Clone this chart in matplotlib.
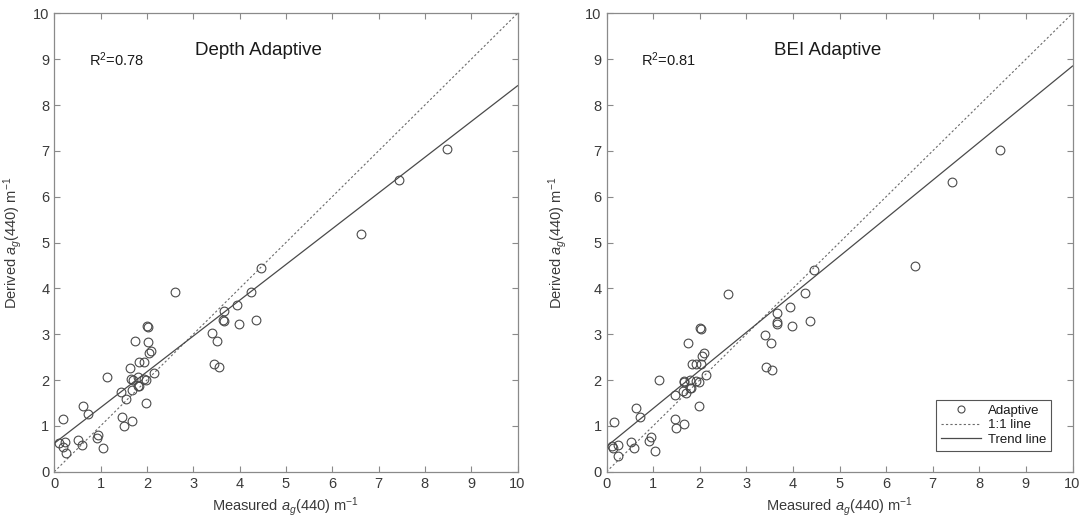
import matplotlib
matplotlib.use("Agg")
import matplotlib.pyplot as plt
import numpy as np

plt.rcParams['font.family'] = ['Liberation Sans', 'DejaVu Sans']
plt.rcParams['mathtext.fontset'] = 'custom'
plt.rcParams['mathtext.rm'] = 'Liberation Sans'
plt.rcParams['mathtext.it'] = 'Liberation Sans:italic'

# ---- data: Depth Adaptive ----
depth_measured = [0.11, 0.18, 0.23, 0.18, 0.25, 0.52, 0.60, 0.63, 0.73, 0.93,
                  0.95, 1.05, 1.13, 1.45, 1.46, 1.50, 1.55, 1.67, 1.64, 1.66,
                  1.69, 1.68, 1.75, 1.80, 1.81, 1.83, 1.83, 1.94, 1.94, 1.98,
                  1.98, 2.00, 2.02, 2.02, 2.04, 2.08, 2.15, 2.60, 3.41, 3.44,
                  3.52, 3.55, 3.66, 3.64, 3.66, 3.95, 3.98, 4.25, 4.36, 4.46,
                  6.63, 7.44, 8.47]
depth_derived = [0.63, 1.15, 0.65, 0.55, 0.41, 0.70, 0.59, 1.43, 1.25, 0.74,
                 0.81, 0.52, 2.06, 1.74, 1.19, 1.00, 1.59, 1.11, 2.26, 2.02,
                 2.01, 1.78, 2.86, 2.06, 1.86, 2.40, 1.88, 2.40, 2.02, 2.01,
                 1.49, 3.19, 3.15, 2.82, 2.58, 2.63, 2.15, 3.93, 3.03, 2.34,
                 2.86, 2.28, 3.51, 3.32, 3.28, 3.64, 3.22, 3.92, 3.32, 4.45,
                 5.18, 6.36, 7.05]
depth_trend = (0.78, 0.62)   # slope, intercept
depth_r2 = "0.78"

# ---- data: BEI Adaptive ----
bei_measured = [0.11, 0.17, 0.14, 0.25, 0.25, 0.52, 0.59, 0.63, 0.72, 0.91,
                0.95, 1.05, 1.13, 1.46, 1.47, 1.50, 1.67, 1.64, 1.67, 1.66,
                1.70, 1.74, 1.79, 1.79, 1.82, 1.83, 1.93, 1.92, 1.98, 1.98,
                2.00, 2.03, 2.02, 2.04, 2.09, 2.13, 2.60, 3.40, 3.43, 3.52,
                3.55, 3.66, 3.65, 3.66, 3.93, 3.97, 4.26, 4.36, 4.45, 6.62,
                7.42, 8.45]
bei_derived = [0.57, 1.09, 0.51, 0.59, 0.34, 0.64, 0.52, 1.38, 1.20, 0.67,
               0.76, 0.46, 2.01, 1.68, 1.14, 0.95, 1.05, 1.76, 1.97, 1.96,
               1.71, 2.81, 2.00, 1.82, 1.82, 2.34, 2.34, 1.97, 1.96, 1.44,
               3.14, 3.11, 2.34, 2.53, 2.58, 2.10, 3.88, 2.98, 2.29, 2.81,
               2.23, 3.46, 3.27, 3.23, 3.60, 3.17, 3.89, 3.28, 4.40, 4.48,
               6.33, 7.01]
bei_trend = (0.83, 0.55)
bei_r2 = "0.81"

ticks = list(range(0, 11))

fig = plt.figure(figsize=(10.85, 5.23), dpi=100)
ax1 = fig.add_axes([0.050, 0.098, 0.427, 0.8765])
ax2 = fig.add_axes([0.559, 0.098, 0.4295, 0.8765])

spine_c = '#8a8a8a'
text_c = '#3a3a3a'
mark_c = '#4a4a4a'

def draw(ax, xs, ys, trend, r2, title, title_x, ylab_x, legend=False):
    xl = np.array([0, 10])
    ax.plot(xs, ys, linestyle='none', marker='o', markersize=6.3,
            markerfacecolor='none', markeredgecolor=mark_c, markeredgewidth=0.8,
            label='Adaptive', zorder=3)
    ax.plot(xl, xl, linestyle=(0, (2, 2)), color='#6a6a6a', linewidth=0.8,
            label='1:1 line')
    ax.plot(xl, trend[0] * xl + trend[1], color='#4a4a4a', linewidth=0.9,
            label='Trend line')
    ax.set_xlim(0, 10)
    ax.set_ylim(0, 10)
    ax.set_xticks(ticks)
    ax.set_yticks(ticks)
    ax.tick_params(direction='in', top=True, right=True, length=4,
                   width=0.8, color=spine_c, labelcolor=text_c, labelsize=10.5)
    for s in ax.spines.values():
        s.set_color(spine_c)
        s.set_linewidth(0.9)
    ax.set_xlabel(r'Measured $\mathit{a}_{g}$(440) m$^{-1}$', fontsize=10.5,
                  color=text_c, labelpad=3)
    ax.set_ylabel(r'Derived $\mathit{a}_{g}$(440) m$^{-1}$', fontsize=10.5,
                  color=text_c)
    ax.yaxis.set_label_coords(ylab_x, 0.5)
    ax.text(title_x, 9.2, title, fontsize=13.5, color='#1a1a1a',
            ha='center', va='center')
    ax.text(0.75, 8.98, r'R$^2$=' + r2, fontsize=10.5, color='#1a1a1a',
            ha='left', va='center')
    if legend:
        leg = ax.legend(loc='lower right', fontsize=9.5, frameon=True,
                        fancybox=False, edgecolor='#555555', framealpha=1,
                        handlelength=3.0, borderpad=0.35, labelspacing=0.18,
                        handletextpad=0.6, borderaxespad=1.6, markerscale=0.8)
        leg.get_frame().set_linewidth(0.8)
        for t in leg.get_texts():
            t.set_color('#1a1a1a')

draw(ax1, depth_measured, depth_derived, depth_trend, depth_r2,
     'Depth Adaptive', 4.4, -0.066)
draw(ax2, bei_measured, bei_derived, bei_trend, bei_r2,
     'BEI Adaptive', 4.75, -0.08, legend=True)

fig.savefig('out.png', dpi=100)
